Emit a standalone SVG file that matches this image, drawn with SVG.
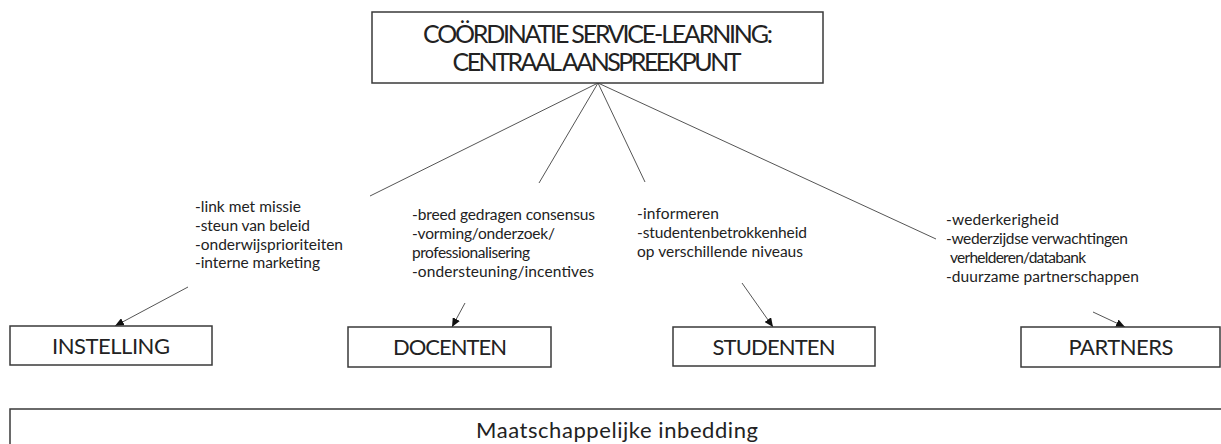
<svg xmlns="http://www.w3.org/2000/svg" width="1221" height="444" viewBox="0 0 1221 444">
<style>
.box{fill:#fff;stroke:#3a3a3a;stroke-width:1.5}
.big{font-family:Lato,"Open Sans",sans-serif;fill:#222;text-anchor:middle}
.ann{font-family:Lato,"Open Sans",sans-serif;font-size:15.5px;fill:#222}
.ln{stroke:#555;stroke-width:1;fill:none}
.ar{stroke:#555;stroke-width:1;fill:none;marker-end:url(#ah)}
</style>
<defs>
<marker id="ah" markerUnits="userSpaceOnUse" markerWidth="9" markerHeight="8" refX="9" refY="4" orient="auto" viewBox="0 0 9 8">
<path d="M0,0 L9,4 L0,8 z" fill="#111"/>
</marker>
</defs>
<rect width="1221" height="444" fill="#fff"/>
<g id="connectors">
<line class="ln" x1="598" y1="83" x2="370" y2="196"/>
<line class="ln" x1="598" y1="83" x2="539" y2="183"/>
<line class="ln" x1="598" y1="83" x2="645" y2="182"/>
<line class="ln" x1="598" y1="83" x2="936" y2="239"/>
<line class="ar" x1="188" y1="287" x2="115" y2="326"/>
<line class="ar" x1="465" y1="303" x2="452" y2="327"/>
<line class="ar" x1="742" y1="283" x2="773" y2="327"/>
<line class="ar" x1="1093" y1="312" x2="1125" y2="327"/>
</g>
<g id="centraal">
<rect class="box" x="372" y="12" width="451" height="71"/>
<text class="big" x="598" y="43" font-size="25" textLength="350">COÖRDINATIE SERVICE-LEARNING:</text>
<text class="big" x="597" y="71" font-size="25" textLength="289">CENTRAAL AANSPREEKPUNT</text>
</g>
<g id="ann-instelling">
<text class="ann" x="195" y="212" textLength="106">-link met missie</text>
<text class="ann" x="195" y="231" textLength="115">-steun van beleid</text>
<text class="ann" x="195" y="249.5" textLength="148">-onderwijsprioriteiten</text>
<text class="ann" x="195" y="268" textLength="125">-interne marketing</text>
</g>
<g id="ann-docenten">
<text class="ann" x="412" y="220" textLength="183">-breed gedragen consensus</text>
<text class="ann" x="412" y="238.7" textLength="143">-vorming/onderzoek/</text>
<text class="ann" x="412" y="257.5" textLength="118">professionalisering</text>
<text class="ann" x="412" y="276.5" textLength="182">-ondersteuning/incentives</text>
</g>
<g id="ann-studenten">
<text class="ann" x="637" y="218.5" textLength="82">-informeren</text>
<text class="ann" x="637" y="237.5" textLength="170">-studentenbetrokkenheid</text>
<text class="ann" x="637" y="256.5" textLength="166">op verschillende niveaus</text>
</g>
<g id="ann-partners">
<text class="ann" x="946" y="225" textLength="113">-wederkerigheid</text>
<text class="ann" x="946" y="244" textLength="182">-wederzijdse verwachtingen</text>
<text class="ann" x="950" y="263" textLength="136">verhelderen/databank</text>
<text class="ann" x="946" y="282" textLength="193">-duurzame partnerschappen</text>
</g>
<g id="instelling">
<rect class="box" x="10" y="326" width="202" height="39"/>
<text class="big" x="111" y="353.5" font-size="22" textLength="118">INSTELLING</text>
</g>
<g id="docenten">
<rect class="box" x="348" y="327" width="203" height="40"/>
<text class="big" x="450" y="355" font-size="22" textLength="114">DOCENTEN</text>
</g>
<g id="studenten">
<rect class="box" x="673" y="327" width="202" height="39"/>
<text class="big" x="774" y="355" font-size="22" textLength="123">STUDENTEN</text>
</g>
<g id="partners">
<rect class="box" x="1021" y="327" width="199" height="40"/>
<text class="big" x="1121" y="355" font-size="22" textLength="105">PARTNERS</text>
</g>
<g id="maatschappelijke-inbedding">
<rect class="box" x="10" y="409" width="1215" height="45"/>
<text class="big" x="617" y="438" font-size="22" textLength="282">Maatschappelijke inbedding</text>
</g>
</svg>
